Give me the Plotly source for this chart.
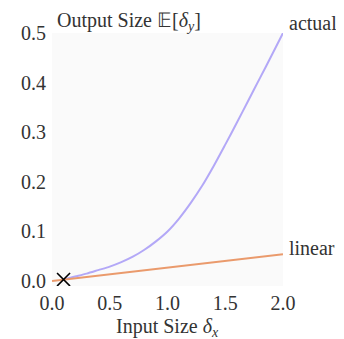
import plotly.graph_objects as go

actual_x = [0.1, 0.2, 0.3, 0.4, 0.5, 0.6, 0.7, 0.8, 0.9, 1.0,
            1.1, 1.2, 1.3, 1.4, 1.5, 1.6, 1.7, 1.8, 1.9, 2.0]
actual_y = [0.003, 0.009, 0.015, 0.022, 0.029, 0.038, 0.049, 0.063, 0.080, 0.100,
            0.126, 0.157, 0.192, 0.232, 0.275, 0.319, 0.364, 0.409, 0.454, 0.5]
linear_x = [0.0, 2.0]
linear_y = [0.0, 0.054]
point_x = [0.1]
point_y = [0.003]
x_ticks = [0.0, 0.5, 1.0, 1.5, 2.0]
y_ticks = [0.0, 0.1, 0.2, 0.3, 0.4, 0.5]

FONT = "Liberation Serif"
TXT = "#333333"
FS = 20

fig = go.Figure()
fig.add_trace(go.Scatter(x=actual_x, y=actual_y, mode="lines",
                         line=dict(color="#b3a8f7", width=2, shape="spline", smoothing=0.8),
                         showlegend=False))
fig.add_trace(go.Scatter(x=linear_x, y=linear_y, mode="lines",
                         line=dict(color="#ea9a6c", width=2),
                         showlegend=False))
fig.add_trace(go.Scatter(x=point_x, y=point_y, mode="markers",
                         marker=dict(symbol="x-thin", size=13,
                                     line=dict(color="black", width=1.6)),
                         showlegend=False))

# the page body has an 8px margin, so the figure is drawn 8px smaller
fig.update_layout(
    width=336, height=331,
    margin=dict(l=44, r=61, t=25, b=53),
    paper_bgcolor="white", plot_bgcolor="#fafafa",
    font=dict(family=FONT, size=FS, color=TXT),
    xaxis=dict(range=[0, 2], tickvals=x_ticks, tickformat=".1f",
               showgrid=False, zeroline=False, showline=False,
               ticks="", ticklen=0, automargin=False, ticklabelstandoff=3),
    yaxis=dict(range=[-0.01, 0.5], tickvals=y_ticks, tickformat=".1f",
               showgrid=False, zeroline=False, showline=False,
               ticks="", ticklen=0, automargin=False, ticklabelstandoff=5),
    annotations=[
        dict(text="Output Size 𝔼[<i>δ</i><sub><i>y</i></sub>]", xref="paper", yref="paper",
             x=0.013, y=1.0, xanchor="left", yanchor="top", yshift=26,
             showarrow=False, font=dict(size=FS, family=FONT, color=TXT)),
        dict(text="Input Size <i>δ</i><sub><i>x</i></sub>", xref="paper", yref="paper",
             x=0.5, y=0, xanchor="center", yanchor="top", yshift=-27,
             showarrow=False, font=dict(size=FS, family=FONT, color=TXT)),
        dict(text="actual", x=2.0, y=0.5, xanchor="left", yanchor="top",
             xshift=4, yshift=23, showarrow=False,
             font=dict(size=FS, family=FONT, color=TXT)),
        dict(text="linear", x=2.0, y=0.054, xanchor="left", yanchor="top",
             xshift=4, yshift=19, showarrow=False,
             font=dict(size=FS, family=FONT, color=TXT)),
    ],
)

fig.write_html("out.html")
